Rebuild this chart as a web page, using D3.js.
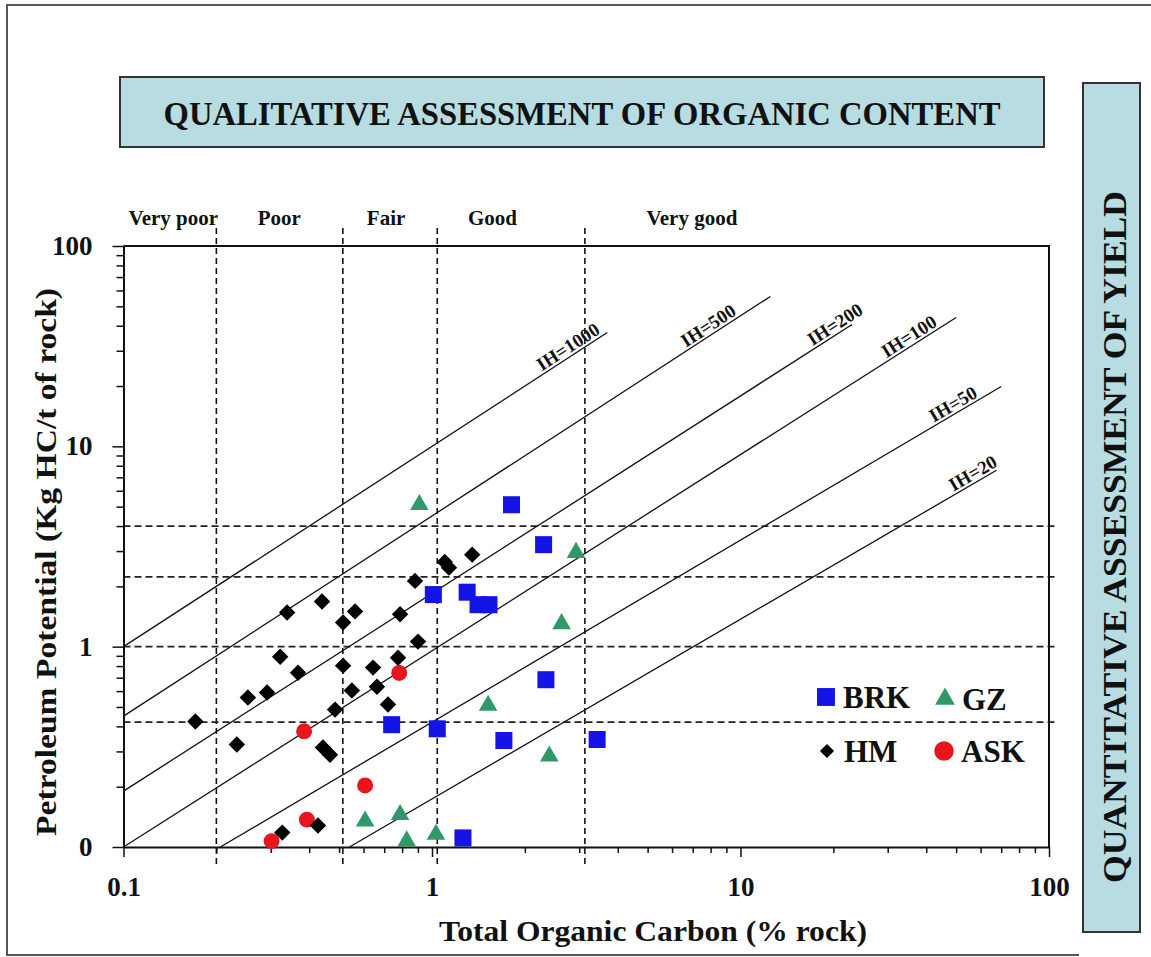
<!DOCTYPE html>
<html>
<head>
<meta charset="utf-8">
<script src="https://cdn.jsdelivr.net/npm/d3@7"></script>
<style>
  body { margin: 0; background: #fff; }
  text { font-family: 'Liberation Serif', 'Times New Roman', serif; font-weight: bold; fill: #111; }
</style>
</head>
<body>
<svg width="1151" height="957"></svg>
<script>
// values (TOC in % rock, S1+S2 in kg HC/t rock)

const xTickValues = [0.1, 1, 10, 100];
const xTickLabels = ['0.1', '1', '10', '100'];
const yTickValues = [0.1, 1, 10, 100];
const yTickLabels = ['0', '1', '10', '100'];

const qualityLabels = ['Very poor', 'Poor', 'Fair', 'Good', 'Very good'];
const qualityPos = [0.145, 0.32, 0.71, 1.57, 6.96];

// dashed class limits
const tocLimits = [0.2, 0.514, 1.04, 3.13];
const s2Limits = [4.0, 2.23, 1.0, 0.42];

// IH reference lines: start / end points [TOC, S2] and where the label ends
const ihNames = ['IH=1000', 'IH=500', 'IH=200', 'IH=100', 'IH=50', 'IH=20'];
const ihStart = [[0.1, 1.0], [0.1, 0.45], [0.1, 0.19], [0.1, 0.1], [0.206, 0.1], [0.54, 0.1]];
const ihEnd = [[3.7, 37], [12.5, 56], [23, 40.6], [50, 44], [70, 19.9], [67.6, 7.6]];
const ihLabelAt = [3.58, 9.9, 25.5, 44.3, 59.8, 69.4];

// samples
const brkToc = [1.81, 2.30, 1.01, 1.30, 1.41, 1.53, 2.34, 0.74, 1.04, 1.71, 1.26, 3.43];
const brkS2 = [5.11, 3.23, 1.82, 1.87, 1.62, 1.62, 0.684, 0.408, 0.389, 0.34, 0.111, 0.344];

const gzToc = [0.607, 0.788, 0.828, 1.03, 0.91, 2.93, 2.63, 1.52, 2.40];
const gzS2 = [0.1345, 0.145, 0.107, 0.1155, 5.11, 2.95, 1.30, 0.509, 0.284];

const hmToc = [0.171, 0.233, 0.253, 0.292, 0.322, 0.339, 0.368, 0.440, 0.443, 0.467, 0.485, 0.515, 0.515,
  0.550, 0.563, 0.644, 0.663, 0.720, 0.776, 0.788, 0.881, 0.901, 1.10, 1.135, 1.35, 0.327, 0.427];
const hmS2 = [0.423, 0.325, 0.557, 0.590, 0.891, 1.48, 0.741, 1.68, 0.314, 0.289, 0.485, 1.32, 0.804,
  0.604, 1.50, 0.786, 0.631, 0.514, 0.881, 1.45, 2.13, 1.06, 2.65, 2.48, 2.88, 0.118, 0.128];

const askToc = [0.302, 0.393, 0.385, 0.607, 0.783];
const askS2 = [0.107, 0.137, 0.378, 0.203, 0.739];

const seriesNames = ['BRK', 'GZ', 'HM', 'ASK'];

const svg = d3.select('svg');

const x = d3.scaleLog().domain([0.1, 100]).range([123.5, 1049]);
const y = d3.scaleLog().domain([0.1, 100]).range([847, 246]);

// outer frame
svg.append('path')
  .attr('d', 'M1079,955H7V5H1151')
  .attr('fill', 'none')
  .attr('stroke', '#555')
  .attr('stroke-width', 2);

// top box
svg.append('rect')
  .attr('x', 120).attr('y', 77).attr('width', 924).attr('height', 70)
  .attr('fill', '#b7dde3').attr('stroke', '#333').attr('stroke-width', 2);
svg.append('text')
  .attr('x', 582).attr('y', 125)
  .attr('text-anchor', 'middle')
  .attr('font-size', 34)
  .attr('textLength', 837)
  .attr('lengthAdjust', 'spacingAndGlyphs')
  .text('QUALITATIVE  ASSESSMENT OF ORGANIC CONTENT');

// right box
svg.append('rect')
  .attr('x', 1083).attr('y', 83).attr('width', 57).attr('height', 849)
  .attr('fill', '#b7dde3').attr('stroke', '#333').attr('stroke-width', 2);
svg.append('text')
  .attr('transform', 'translate(1126,537) rotate(-90)')
  .attr('text-anchor', 'middle')
  .attr('font-size', 34)
  .attr('textLength', 692)
  .attr('lengthAdjust', 'spacingAndGlyphs')
  .text('QUANTITATIVE ASSESSMENT OF YIELD');

// class names above the plot
svg.selectAll('.qlab')
  .data(qualityLabels)
  .join('text')
  .attr('class', 'qlab')
  .attr('x', (d, i) => x(qualityPos[i]))
  .attr('y', 225)
  .attr('text-anchor', 'middle')
  .attr('font-size', 21)
  .text((d) => d);

// dashed limits
svg.selectAll('.vdash')
  .data(tocLimits)
  .join('line')
  .attr('class', 'vdash')
  .attr('x1', (d) => x(d)).attr('x2', (d) => x(d))
  .attr('y1', 228).attr('y2', 865)
  .attr('stroke', '#111').attr('stroke-width', 1.6)
  .attr('stroke-dasharray', '6,4');

svg.selectAll('.hdash')
  .data(s2Limits)
  .join('line')
  .attr('class', 'hdash')
  .attr('x1', x(0.1)).attr('x2', 1057)
  .attr('y1', (d) => y(d)).attr('y2', (d) => y(d))
  .attr('stroke', '#222').attr('stroke-width', 1.8)
  .attr('stroke-dasharray', '7,4');

// IH lines
const line = d3.line().x((d) => x(d[0])).y((d) => y(d[1]));

ihNames.forEach((name, i) => {
  const s = ihStart[i];
  const e = ihEnd[i];
  svg.append('path')
    .attr('d', line([s, e]))
    .attr('fill', 'none')
    .attr('stroke', '#111')
    .attr('stroke-width', 1.3);

  // point on the line where the label ends
  const t = (Math.log10(ihLabelAt[i]) - Math.log10(s[0])) / (Math.log10(e[0]) - Math.log10(s[0]));
  const s2 = Math.pow(10, Math.log10(s[1]) + t * (Math.log10(e[1]) - Math.log10(s[1])));
  const ang = (Math.atan2(y(e[1]) - y(s[1]), x(e[0]) - x(s[0])) * 180) / Math.PI;
  svg.append('text')
    .attr('transform', `translate(${x(ihLabelAt[i])},${y(s2)}) rotate(${ang})`)
    .attr('y', -3)
    .attr('text-anchor', 'end')
    .attr('font-size', 19)
    .text(name);
});

// axes
const minorTicks = [];
[0.1, 1, 10].forEach((dec) => {
  for (let k = 2; k < 10; k++) minorTicks.push(dec * k);
});

const styleAxis = (g) => {
  g.attr('font-family', "'Liberation Serif', 'Times New Roman', serif")
    .attr('font-weight', 'bold')
    .attr('font-size', 27);
  g.selectAll('line').attr('stroke', '#111').attr('stroke-width', 1.5);
  g.selectAll('.domain').attr('stroke', '#111').attr('stroke-width', 2);
  g.selectAll('text').attr('fill', '#111');
};

svg.append('g')
  .attr('transform', 'translate(0,847)')
  .call(d3.axisBottom(x).tickValues(minorTicks).tickFormat('').tickSize(6).tickSizeOuter(0))
  .call((g) => g.select('.domain').remove())
  .call(styleAxis);

svg.append('g')
  .attr('transform', 'translate(0,847)')
  .call(d3.axisBottom(x)
    .tickValues(xTickValues)
    .tickFormat((d, i) => xTickLabels[i])
    .tickSize(10).tickPadding(20).tickSizeOuter(0))
  .call(styleAxis);

svg.append('g')
  .attr('transform', `translate(${x(0.1)},0)`)
  .call(d3.axisLeft(y).tickValues(minorTicks).tickFormat('').tickSize(7).tickSizeOuter(0))
  .call((g) => g.select('.domain').remove())
  .call(styleAxis);

svg.append('g')
  .attr('transform', `translate(${x(0.1)},0)`)
  .call(d3.axisLeft(y)
    .tickValues(yTickValues)
    .tickFormat((d, i) => yTickLabels[i])
    .tickSize(11).tickPadding(20).tickSizeOuter(0))
  .call(styleAxis);

// plot frame (top and right)
svg.append('path')
  .attr('d', `M${x(0.1)},${y(100)}H${x(100)}V${y(0.1)}`)
  .attr('fill', 'none')
  .attr('stroke', '#111')
  .attr('stroke-width', 2);

// axis titles
svg.append('text')
  .attr('x', 653).attr('y', 941)
  .attr('text-anchor', 'middle')
  .attr('font-size', 29)
  .attr('textLength', 428)
  .attr('lengthAdjust', 'spacingAndGlyphs')
  .text('Total Organic Carbon (% rock)');

svg.append('text')
  .attr('transform', 'translate(56,562) rotate(-90)')
  .attr('text-anchor', 'middle')
  .attr('font-size', 29)
  .attr('textLength', 548)
  .attr('lengthAdjust', 'spacingAndGlyphs')
  .text('Petroleum Potential (Kg HC/t of rock)');

// points
const series = [
  { name: 'BRK', toc: brkToc, s2: brkS2, color: '#1414e6', type: d3.symbolSquare, size: 290, rot: 0, lsize: 320 },
  { name: 'GZ', toc: gzToc, s2: gzS2, color: '#2f9a68', type: d3.symbolTriangle, size: 150, rot: 0, lsize: 170 },
  { name: 'ASK', toc: askToc, s2: askS2, color: '#e6161c', type: d3.symbolCircle, size: 200, rot: 0, lsize: 300 },
  { name: 'HM', toc: hmToc, s2: hmS2, color: '#000', type: d3.symbolSquare, size: 135, rot: 45, lsize: 100 }
];

series.forEach((ser) => {
  svg.selectAll(`.pt-${ser.name}`)
    .data(ser.toc.map((t, i) => [t, ser.s2[i]]))
    .join('path')
    .attr('class', `pt-${ser.name}`)
    .attr('d', d3.symbol().type(ser.type).size(ser.size))
    .attr('transform', (d) => `translate(${x(d[0])},${y(d[1])}) rotate(${ser.rot})`)
    .attr('fill', ser.color);
});

// legend
const legendPos = { BRK: [826, 697], GZ: [945, 699], HM: [827, 751], ASK: [944, 751] };
seriesNames.forEach((name) => {
  const ser = series.find((s) => s.name === name);
  const p = legendPos[name];
  svg.append('path')
    .attr('d', d3.symbol().type(ser.type).size(ser.lsize))
    .attr('transform', `translate(${p[0]},${p[1]}) rotate(${ser.rot})`)
    .attr('fill', ser.color);
  svg.append('text')
    .attr('x', p[0] + 17)
    .attr('y', p[1] + 11)
    .attr('font-size', 31)
    .text(name);
});
</script>
</body>
</html>
